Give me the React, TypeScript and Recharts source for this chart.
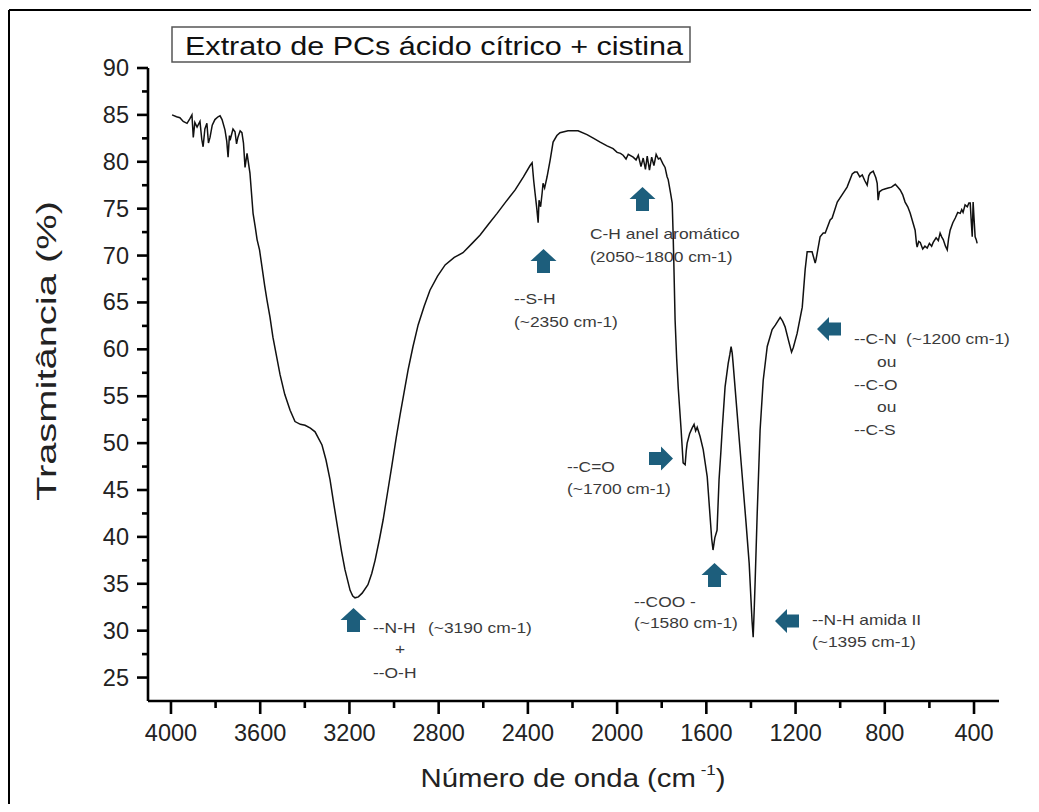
import React from 'react';
import { LineChart, Line, XAxis, YAxis } from 'recharts';

// FTIR spectrum (cm-1 / %T)
const wavenumber = [
  3995, 3975, 3960, 3945, 3928, 3915, 3906, 3900, 3893, 3883, 3870, 3862, 3856, 3848, 3839, 3832,
  3825, 3815, 3803, 3789, 3780, 3771, 3758, 3750, 3744, 3738, 3735, 3722, 3713, 3706, 3700, 3690,
  3682, 3675, 3668, 3659, 3646, 3632, 3622, 3614, 3603, 3592, 3580, 3570, 3556, 3543, 3511, 3490,
  3466, 3444, 3420, 3399, 3375, 3354, 3323, 3305, 3287, 3270, 3251, 3235, 3220, 3197, 3185, 3175,
  3160, 3143, 3117, 3100, 3085, 3065, 3049, 3030, 3009, 2990, 2973, 2955, 2937, 2915, 2892, 2865,
  2839, 2805, 2771, 2730, 2691, 2650, 2614, 2575, 2538, 2500, 2457, 2420, 2390, 2381, 2374, 2368,
  2360, 2354, 2350, 2343, 2336, 2332, 2325, 2314, 2300, 2287, 2270, 2256, 2220, 2175, 2135, 2105,
  2076, 2045, 2018, 2000, 1985, 1973, 1960, 1950, 1928, 1915, 1905, 1893, 1883, 1873, 1865, 1855,
  1845, 1835, 1825, 1815, 1807, 1795, 1785, 1776, 1771, 1760, 1753, 1749, 1746, 1740, 1733, 1726,
  1713, 1704, 1695, 1690, 1686, 1675, 1664, 1655, 1648, 1641, 1628, 1614, 1596, 1583, 1576, 1570,
  1562, 1552, 1543, 1535, 1529, 1516, 1502, 1495, 1489, 1484, 1480, 1462, 1444, 1422, 1408, 1395,
  1390, 1385, 1381, 1372, 1359, 1345, 1327, 1305, 1290, 1269, 1258, 1247, 1230, 1218, 1210, 1193,
  1170, 1157, 1148, 1126, 1112, 1108, 1090, 1076, 1067, 1045, 1036, 1013, 991, 969, 946, 935,
  924, 912, 901, 890, 879, 872, 865, 852, 840, 834, 830, 824, 812, 800, 785, 770,
  753, 742, 731, 720, 709, 697, 686, 675, 664, 658, 655, 648, 641, 630, 620, 610,
  600, 590, 583, 570, 560, 552, 545, 538, 528, 520, 514, 507, 495, 484, 473, 462,
  455, 449, 440, 430, 423, 417, 412, 408, 404, 400, 395, 390, 386,
];
const transmittance = [
  85.0, 84.8, 84.7, 84.3, 84.1, 84.6, 85.0, 82.6, 84.2, 83.7, 84.3, 82.4, 81.6, 83.5, 84.1, 82.0,
  82.6, 83.9, 84.5, 84.8, 84.9, 84.5, 83.4, 82.2, 80.5, 82.8, 82.3, 83.5, 83.2, 81.9, 82.6, 83.3,
  83.1, 82.0, 79.4, 80.9, 78.8, 74.5, 73.0, 71.7, 70.6, 68.8, 66.8, 65.3, 63.4, 61.3, 57.3, 55.2,
  53.5, 52.3, 52.0, 51.9, 51.6, 51.2, 49.8, 48.2, 46.1, 43.5, 40.7, 38.4, 36.5, 34.3, 33.7, 33.5,
  33.6, 34.0, 34.9, 36.1, 37.5, 39.8, 41.8, 44.6, 47.7, 50.6, 53.0, 55.4, 57.8, 60.3, 62.6, 64.6,
  66.3, 67.8, 69.0, 69.8, 70.3, 71.3, 72.2, 73.4, 74.5, 75.7, 77.0, 78.4, 79.6, 79.9, 78.0, 76.7,
  75.0, 73.5, 75.9, 75.2, 76.7, 77.7, 77.2, 78.4, 80.2, 82.1, 82.8, 83.1, 83.3, 83.3, 82.9, 82.5,
  82.1, 81.7, 81.4, 81.0, 80.9, 80.7, 80.3, 80.8, 80.5, 80.2, 80.7, 79.5, 80.4, 79.2, 80.6, 79.1,
  80.5, 79.6, 80.8, 80.3, 80.4, 79.8, 79.4, 78.4, 78.1, 76.6, 75.6, 72.4, 69.5, 63.1, 59.0, 55.9,
  51.4, 47.9, 47.7, 49.2, 50.0, 51.0, 51.6, 52.0, 51.3, 51.7, 50.7, 49.3, 46.4, 42.1, 39.8, 38.6,
  39.9, 40.7, 46.1, 49.0, 51.4, 56.0, 58.5, 59.4, 60.3, 59.6, 58.5, 53.2, 47.9, 41.5, 37.2, 31.0,
  29.3, 32.5, 35.4, 42.5, 51.4, 56.7, 60.3, 62.1, 62.6, 63.4, 63.0, 62.4, 60.8, 59.7, 60.2, 61.7,
  64.5, 68.5, 70.4, 70.4, 69.2, 69.6, 72.0, 72.4, 72.4, 73.8, 74.0, 75.7, 76.5, 77.3, 78.7, 78.9,
  78.9, 78.4, 78.6, 78.0, 77.5, 78.5, 78.8, 79.0, 78.3, 77.7, 75.9, 76.8, 77.0, 77.1, 77.2, 77.3,
  77.6, 77.3, 77.0, 76.5, 75.7, 75.2, 74.5, 73.6, 72.7, 71.3, 70.9, 71.5, 71.4, 70.7, 71.0, 70.8,
  71.3, 71.0, 71.4, 71.9, 71.6, 72.4, 72.0, 71.7, 71.0, 70.6, 71.8, 72.7, 73.5, 74.0, 74.6, 74.5,
  74.9, 74.6, 75.4, 75.2, 75.6, 75.6, 73.5, 72.0, 75.7, 74.0, 72.0, 71.7, 71.3,
];

const xTicks = [4000, 3800, 3600, 3400, 3200, 3000, 2800, 2600, 2400, 2200, 2000, 1800, 1600, 1400, 1200, 1000, 800, 600, 400];
const yTicks = [25, 27.5, 30, 32.5, 35, 37.5, 40, 42.5, 45, 47.5, 50, 52.5, 55, 57.5, 60, 62.5, 65, 67.5, 70, 72.5, 75, 77.5, 80, 82.5, 85, 87.5, 90];

const chartData = wavenumber.map((w, i) => ({ w, t: transmittance[i] }));

const FONT = '"Liberation Sans", Arial, sans-serif';
const ARROW = '#1d5e7c';
const NOTE = '#3a3a3a';

const XTick = (props: any) => {
  const { x, y, payload } = props;
  const major = payload.value % 400 === 0;
  return (
    <g>
      <line x1={x} x2={x} y1={y} y2={y + (major ? 13 : 7)} stroke="#000" strokeWidth={2.6} />
      {major && (
        <text x={x} y={y + 40} textAnchor="middle" fontSize={23.5} fontFamily={FONT} fill="#222">
          {payload.value}
        </text>
      )}
    </g>
  );
};

const YTick = (props: any) => {
  const { x, y, payload } = props;
  const major = payload.value % 5 === 0;
  return (
    <g>
      <line x1={x} x2={x - (major ? 11 : 6)} y1={y} y2={y} stroke="#000" strokeWidth={2.6} />
      {major && (
        <text x={x - 19} y={y + 8} textAnchor="end" fontSize={23.5} fontFamily={FONT} fill="#222">
          {payload.value}
        </text>
      )}
    </g>
  );
};

// block arrows, pointing up / left / right
function upArrow(cx: number, top: number) {
  return `${cx},${top} ${cx + 13},${top + 12} ${cx + 6.5},${top + 12} ${cx + 6.5},${top + 24} ${cx - 6.5},${top + 24} ${cx - 6.5},${top + 12} ${cx - 13},${top + 12}`;
}
function sideArrow(tip: number, cy: number, dir: number) {
  const b = tip - dir * 12;
  const e = tip - dir * 24;
  return `${tip},${cy} ${b},${cy - 12} ${b},${cy - 6.5} ${e},${cy - 6.5} ${e},${cy + 6.5} ${b},${cy + 6.5} ${b},${cy + 12}`;
}

// annotation text: the original uses a wider face, so stretch a little
const Note = ({ x, y, children, anchor }: any) => (
  <g transform={`translate(${x}, ${y}) scale(1.16, 1)`}>
    <text x={0} y={0} fontSize={15} fontFamily={FONT} fill={NOTE} dominantBaseline="central" textAnchor={anchor || 'start'}>
      {children}
    </text>
  </g>
);

export default function App() {
  return (
    <div style={{ position: 'relative', width: 1031, height: 796 }}>
      <LineChart width={1031} height={796} data={chartData} margin={{ top: 60, right: 40, left: 80, bottom: 53 }}>
        <XAxis
          dataKey="w"
          type="number"
          domain={[288, 4103]}
          reversed
          allowDataOverflow
          ticks={xTicks}
          interval={0}
          height={50}
          tickSize={0}
          tickMargin={0}
          tickLine={false}
          axisLine={{ stroke: '#000', strokeWidth: 2.6 }}
          tick={<XTick />}
        />
        <YAxis
          type="number"
          domain={[22.5, 90]}
          allowDataOverflow
          ticks={yTicks}
          interval={0}
          width={60}
          tickSize={0}
          tickMargin={0}
          tickLine={false}
          axisLine={{ stroke: '#000', strokeWidth: 2.6 }}
          tick={<YTick />}
        />
        <Line type="linear" dataKey="t" stroke="#111" strokeWidth={1.5} dot={false} isAnimationActive={false} />
      </LineChart>

      <svg width={1031} height={796} style={{ position: 'absolute', left: 0, top: 0, pointerEvents: 'none' }}>
        {/* outer frame */}
        <line x1={1} y1={2} x2={1031} y2={2} stroke="#000" strokeWidth={2} />
        <line x1={1} y1={2} x2={1} y2={796} stroke="#000" strokeWidth={2} />

        {/* title box */}
        <rect x={164} y={19} width={518} height={35} fill="#fff" stroke="#555" strokeWidth={1.5} />
        <text x={177} y={47} fontSize={25.5} fontFamily={FONT} fill="#111" textLength={498} lengthAdjust="spacingAndGlyphs">
          Extrato de PCs ácido cítrico + cistina
        </text>

        {/* axis titles */}
        <text
          transform="translate(48, 343) rotate(-90)"
          textAnchor="middle"
          fontSize={27}
          fontFamily={FONT}
          fill="#222"
          textLength={300}
          lengthAdjust="spacingAndGlyphs"
        >
          Trasmitância (%)
        </text>
        <text x={565} y={779} textAnchor="middle" fontSize={26} fontFamily={FONT} fill="#222" textLength={305} lengthAdjust="spacingAndGlyphs">
          Número de onda (cm
          <tspan fontSize={15} dy={-12}> -1</tspan>
          <tspan dy={12}>)</tspan>
        </text>

        {/* arrows */}
        <polygon points={upArrow(345.5, 600)} fill={ARROW} />
        <polygon points={upArrow(535.5, 241)} fill={ARROW} />
        <polygon points={upArrow(634.5, 179)} fill={ARROW} />
        <polygon points={upArrow(706.5, 555)} fill={ARROW} />
        <polygon points={sideArrow(665, 450.5, 1)} fill={ARROW} />
        <polygon points={sideArrow(809, 321, -1)} fill={ARROW} />
        <polygon points={sideArrow(767, 613, -1)} fill={ARROW} />

        {/* annotations */}
        <Note x={365} y={619}>--N-H</Note>
        <Note x={420} y={619}>(~3190 cm-1)</Note>
        <Note x={392} y={640} anchor="middle">+</Note>
        <Note x={365} y={664}>--O-H</Note>

        <Note x={506} y={290}>--S-H</Note>
        <Note x={506} y={313}>(~2350 cm-1)</Note>

        <Note x={582} y={225}>C-H anel aromático</Note>
        <Note x={582} y={248}>(2050~1800 cm-1)</Note>

        <Note x={559} y={458}>--C=O</Note>
        <Note x={559} y={480}>(~1700 cm-1)</Note>

        <Note x={626} y={593}>--COO -</Note>
        <Note x={626} y={614}>(~1580 cm-1)</Note>

        <Note x={804} y={611}>--N-H amida II</Note>
        <Note x={804} y={633}>(~1395 cm-1)</Note>

        <Note x={846} y={330}>--C-N</Note>
        <Note x={898} y={330}>(~1200 cm-1)</Note>
        <Note x={869} y={353}>ou</Note>
        <Note x={846} y={376}>--C-O</Note>
        <Note x={869} y={398}>ou</Note>
        <Note x={846} y={421}>--C-S</Note>
      </svg>
    </div>
  );
}
